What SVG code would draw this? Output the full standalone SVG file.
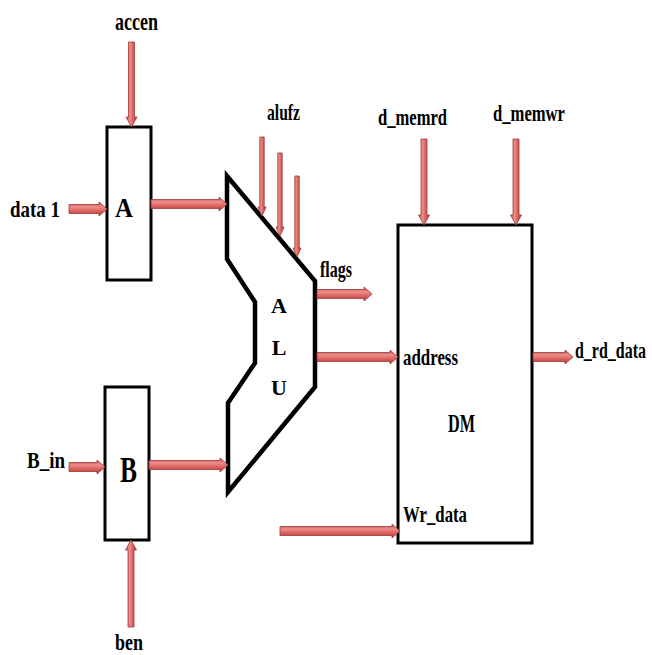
<svg xmlns="http://www.w3.org/2000/svg" width="652" height="655" viewBox="0 0 652 655">
<defs>
<linearGradient id="gh" x1="0" y1="0" x2="0" y2="1">
<stop offset="0" stop-color="#b84542"/><stop offset="0.35" stop-color="#ec8f8c"/><stop offset="0.65" stop-color="#d9605d"/><stop offset="1" stop-color="#a33836"/>
</linearGradient>
<linearGradient id="gv" x1="0" y1="0" x2="1" y2="0">
<stop offset="0" stop-color="#b84542"/><stop offset="0.35" stop-color="#ec8f8c"/><stop offset="0.65" stop-color="#d9605d"/><stop offset="1" stop-color="#a33836"/>
</linearGradient>
<style>
.box{fill:#fff;stroke:#000;stroke-width:3}
.alu{fill:none;stroke:#000;stroke-width:4.5;stroke-linejoin:miter}
.ah{fill:url(#gh);stroke:#a33836;stroke-width:0.8}
.av{fill:url(#gv);stroke:#a33836;stroke-width:0.8}
text{font-family:"Liberation Serif","Times New Roman",serif;font-weight:bold;fill:#000}
</style>
</defs>
<rect width="652" height="655" fill="#fff"/>
<g id="nodeA"><rect class="box" x="107" y="127" width="44" height="153"/><text x="115" y="217" font-size="28" textLength="18" lengthAdjust="spacingAndGlyphs">A</text></g>
<g id="nodeB"><rect class="box" x="105" y="387" width="44" height="153"/><text x="120" y="482" font-size="35" textLength="17" lengthAdjust="spacingAndGlyphs">B</text></g>
<g id="nodeALU"><polygon class="alu" points="227,176 315,281 315,387 228,492 228,403 255,363 255,302 227,259"/>
<text x="279" y="313" font-size="22" text-anchor="middle">A</text>
<text x="279" y="355" font-size="22" text-anchor="middle">L</text>
<text x="279" y="395" font-size="22" text-anchor="middle">U</text></g>
<g id="nodeDM"><rect class="box" x="398" y="225" width="134" height="318"/>
<text x="448" y="432" font-size="25" textLength="27" lengthAdjust="spacingAndGlyphs">DM</text>
<text x="403" y="365" font-size="23" textLength="55" lengthAdjust="spacingAndGlyphs">address</text>
<text x="403" y="522" font-size="24" textLength="64" lengthAdjust="spacingAndGlyphs">Wr_data</text></g>
<g id="labels">
<text x="115" y="30" font-size="26" textLength="43" lengthAdjust="spacingAndGlyphs">accen</text>
<text x="10" y="217" font-size="23" textLength="50" lengthAdjust="spacingAndGlyphs">data 1</text>
<text x="267" y="120" font-size="24" textLength="33" lengthAdjust="spacingAndGlyphs">alufz</text>
<text x="378" y="125" font-size="24" textLength="69" lengthAdjust="spacingAndGlyphs">d_memrd</text>
<text x="493" y="121" font-size="24" textLength="72" lengthAdjust="spacingAndGlyphs">d_memwr</text>
<text x="320" y="277" font-size="24" textLength="32" lengthAdjust="spacingAndGlyphs">flags</text>
<text transform="translate(575,358) scale(0.665,1)" x="0" y="0" font-size="24">d_rd_data</text>
<text x="27" y="468" font-size="24" textLength="38" lengthAdjust="spacingAndGlyphs">B_in</text>
<text x="115" y="650" font-size="24" textLength="28" lengthAdjust="spacingAndGlyphs">ben</text>
</g>
<g id="connectors">
<path class="ah" d="M69,204.5 L99,204.5 L99,202 L107,209 L99,216 L99,213.5 L69,213.5 Z"/>
<path class="ah" d="M151,199.5 L219,199.5 L219,197 L227,204 L219,211 L219,208.5 L151,208.5 Z"/>
<path class="ah" d="M69,462.5 L97,462.5 L97,460 L105,467 L97,474 L97,471.5 L69,471.5 Z"/>
<path class="ah" d="M149,460.5 L220,460.5 L220,458 L228,465 L220,472 L220,469.5 L149,469.5 Z"/>
<path class="ah" d="M317,289.5 L364,289.5 L364,287 L372,294 L364,301 L364,298.5 L317,298.5 Z"/>
<path class="ah" d="M317,352.5 L390,352.5 L390,350 L398,357 L390,364 L390,361.5 L317,361.5 Z"/>
<path class="ah" d="M533,352.5 L565,352.5 L565,350 L573,357 L565,364 L565,361.5 L533,361.5 Z"/>
<path class="ah" d="M280,526.5 L392,526.5 L392,524 L400,531 L392,538 L392,535.5 L280,535.5 Z"/>
<path class="av" d="M128.5,42 L134.5,42 L134.5,117 L137,117 L131.5,127 L126,117 L128.5,117 Z"/>
<path class="av" d="M421,139 L427,139 L427,215 L429.5,215 L424,225 L418.5,215 L421,215 Z"/>
<path class="av" d="M513,139 L519,139 L519,215 L521.5,215 L516,225 L510.5,215 L513,215 Z"/>
<path class="av" d="M128,627 L134,627 L134,550 L136.5,550 L131,540 L125.5,550 L128,550 Z"/>
<path class="av" d="M259.8,137 L264.2,137 L264.2,207 L266,207 L262,216 L258,207 L259.8,207 Z"/>
<path class="av" d="M277.8,153 L282.2,153 L282.2,227 L284,227 L280,236 L276,227 L277.8,227 Z"/>
<path class="av" d="M294.8,176 L299.2,176 L299.2,248 L301,248 L297,257 L293,248 L294.8,248 Z"/>
</g>
</svg>
